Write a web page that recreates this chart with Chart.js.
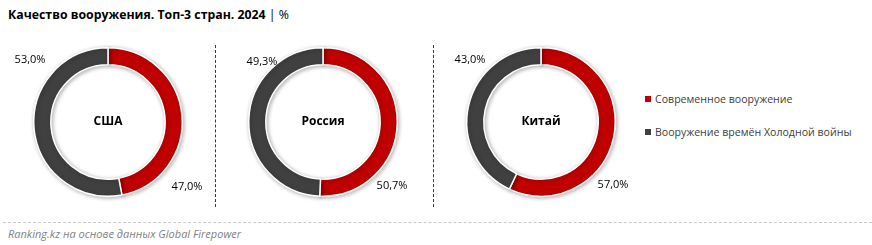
<!DOCTYPE html>
<html lang="ru">
<head>
<meta charset="utf-8">
<script src="https://cdn.jsdelivr.net/npm/chart.js@4.4.1/dist/chart.umd.min.js"></script>
<style>
  body { margin: 0; width: 872px; height: 245px; background: #fff; position: relative; overflow: hidden;
         font-family: "Open Sans", "Noto Sans", sans-serif; }
  .title { position: absolute; left: 8px; top: 6px; font-size: 12.3px; font-weight: bold; color: #000; }
  .title span { font-weight: normal; }
  .vline { position: absolute; top: 45px; height: 162px; border-left: 1px dashed #c00000; }
  .hline { position: absolute; left: 3px; right: 0; top: 222px; border-top: 1px dashed #c8c8c8; }
  .footer { position: absolute; left: 8px; top: 226px; font-size: 11px; font-style: italic; color: #7f7f7f; }
  canvas { position: absolute; }
  .legend { position: absolute; left: 645px; top: 0; font-size: 10.6px; color: #404040; }
  .legend i { display: inline-block; width: 6px; height: 6px; margin-right: 4px; vertical-align: 1px; }
</style>
</head>
<body>
<div class="title">Качество вооружения. Топ-3 стран. 2024 <span>| %</span></div>
<div class="vline" style="left:215px"></div>
<div class="vline" style="left:433px"></div>
<canvas id="c0" width="200" height="200"></canvas>
<canvas id="c1" width="200" height="200"></canvas>
<canvas id="c2" width="200" height="200"></canvas>
<div class="legend" id="legend"></div>
<div class="hline"></div>
<div class="footer">Ranking.kz на основе данных Global Firepower</div>
<script>
// ===============================
// ДАННЫЕ
// ===============================
const COUNTRIES = ["США", "Россия", "Китай"];
const SERIES = ["Современное вооружение", "Вооружение времён Холодной войны"];
const MODERN = [47.0, 50.7, 57.0];
const COLD_WAR = [53.0, 49.3, 43.0];

// ===============================
// ОФОРМЛЕНИЕ
// ===============================
const COLORS = ["#c00000", "#404040"];
const CENTERS_X = [108, 323, 541];
const CENTER_Y = 122;
// смещения подписей (красная - справа снизу, серая - слева сверху)
const LABEL_OFFSETS = [
  [[79, 65], [-78, -62]],
  [[69, 64], [-61, -60]],
  [[72, 63], [-71, -62]],
];

const fmt = (v) => v.toFixed(1).replace(".", ",") + "%";

const shadowPlugin = {
  id: "shadow",
  beforeDatasetsDraw(chart) {
    const ctx = chart.ctx;
    ctx.save();
    ctx.shadowColor = "rgba(0,0,0,0.3)";
    ctx.shadowBlur = 4;
    ctx.shadowOffsetX = 1;
    ctx.shadowOffsetY = 1;
  },
  afterDatasetsDraw(chart) {
    chart.ctx.restore();
  },
};

const labelsPlugin = {
  id: "labels",
  afterDraw(chart, args, opts) {
    const { ctx } = chart;
    const arc = chart.getDatasetMeta(0).data[0];
    const cx = arc.x, cy = arc.y;
    ctx.save();
    ctx.textAlign = "center";
    ctx.textBaseline = "middle";
    ctx.fillStyle = "#000";
    ctx.font = "bold 12px 'Open Sans', 'Noto Sans', sans-serif";
    ctx.fillText(opts.center, cx, cy);
    ctx.font = "11px 'Open Sans', 'Noto Sans', sans-serif";
    chart.data.datasets[0].data.forEach((v, i) => {
      const [dx, dy] = opts.offsets[i];
      ctx.fillText(fmt(v), cx + dx, cy + dy);
    });
    ctx.restore();
  },
};

COUNTRIES.forEach((name, k) => {
  const canvas = document.getElementById("c" + k);
  canvas.style.left = CENTERS_X[k] - 100 + "px";
  canvas.style.top = CENTER_Y - 100 + "px";
  new Chart(canvas.getContext("2d"), {
    type: "doughnut",
    data: {
      labels: SERIES,
      datasets: [
        {
          data: [MODERN[k], COLD_WAR[k]],
          backgroundColor: COLORS,
          borderColor: "#fff",
          borderWidth: 1.5,
        },
      ],
    },
    options: {
      responsive: false,
      animation: false,
      cutout: "77%",
      layout: { padding: 25 },
      plugins: {
        legend: { display: false },
        tooltip: { enabled: false },
        labels: { center: name, offsets: LABEL_OFFSETS[k] },
      },
    },
    plugins: [shadowPlugin, labelsPlugin],
  });
});

// ===============================
// ЛЕГЕНДА
// ===============================
const legend = document.getElementById("legend");
SERIES.forEach((s, i) => {
  const row = document.createElement("div");
  row.style.position = "absolute";
  row.style.whiteSpace = "nowrap";
  row.style.top = 92 + i * 33 + "px";
  row.innerHTML = `<i style="background:${COLORS[i]}"></i>${s}`;
  legend.appendChild(row);
});
</script>
</body>
</html>
